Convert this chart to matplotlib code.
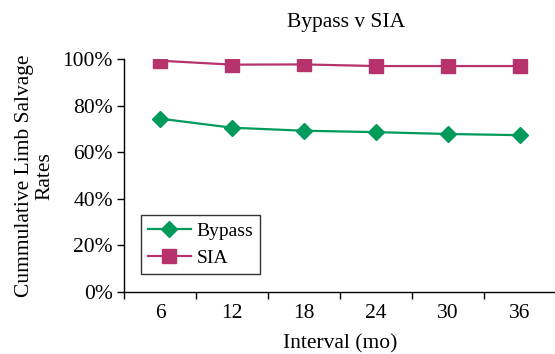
import matplotlib.pyplot as plt
from matplotlib.ticker import FuncFormatter

months = ["6", "12", "18", "24", "30", "36"]
bypass = [74.5, 70.6, 69.3, 68.7, 67.9, 67.4]
sia = [99.4, 97.7, 97.8, 97.1, 97.1, 97.1]

plt.rcParams["font.family"] = ["Liberation Serif", "DejaVu Serif"]
FS = 15.5

fig = plt.figure(figsize=(5.55, 3.54), dpi=100)
ax = fig.add_axes([124 / 555, 1 - 292 / 354, 432 / 555, (292 - 59.3) / 354])

x = list(range(len(months)))
ax.plot(x, bypass, color="#009B5A", marker="D", markersize=8, linewidth=1.6, label="Bypass")
ax.plot(x, sia, color="#B6336B", marker="s", markersize=9.5, linewidth=1.6, label="SIA")

ax.set_xlim(-0.5, len(months) - 0.5)
ax.set_ylim(0, 100)
ax.set_yticks([0, 20, 40, 60, 80, 100])
ax.yaxis.set_major_formatter(FuncFormatter(lambda v, p: f"{v:.0f}%"))
ax.set_xticks(x)
ax.set_xticklabels(months)
ax.set_xticks([i - 0.5 for i in range(len(months) + 1)], minor=True)
ax.tick_params(axis="x", which="major", length=0, pad=9, labelsize=FS)
ax.tick_params(axis="x", which="minor", length=5, direction="out", width=1)
ax.tick_params(axis="y", length=5, direction="out", width=1, labelsize=FS, pad=3)

for side in ["top", "right"]:
    ax.spines[side].set_visible(False)
for side in ["left", "bottom"]:
    ax.spines[side].set_linewidth(1)

ax.set_xlabel("Interval (mo)", fontsize=FS, labelpad=8)
ax.set_ylabel("Cummulative Limb Salvage\nRates", fontsize=FS, labelpad=6, linespacing=1.05)
fig.text(346 / 555, 1 - 22 / 354, "Bypass v SIA", ha="center", va="center", fontsize=FS)

leg = ax.legend(loc="lower left", bbox_to_anchor=((141 - 124) / 432, (292 - 274) / 232.7),
                fontsize=14, frameon=True, fancybox=False, edgecolor="black",
                borderpad=0.35, handlelength=2.2, labelspacing=0.5, borderaxespad=0,
                handletextpad=0.3)
leg.get_frame().set_linewidth(1)

fig.savefig("out.png", dpi=100)
